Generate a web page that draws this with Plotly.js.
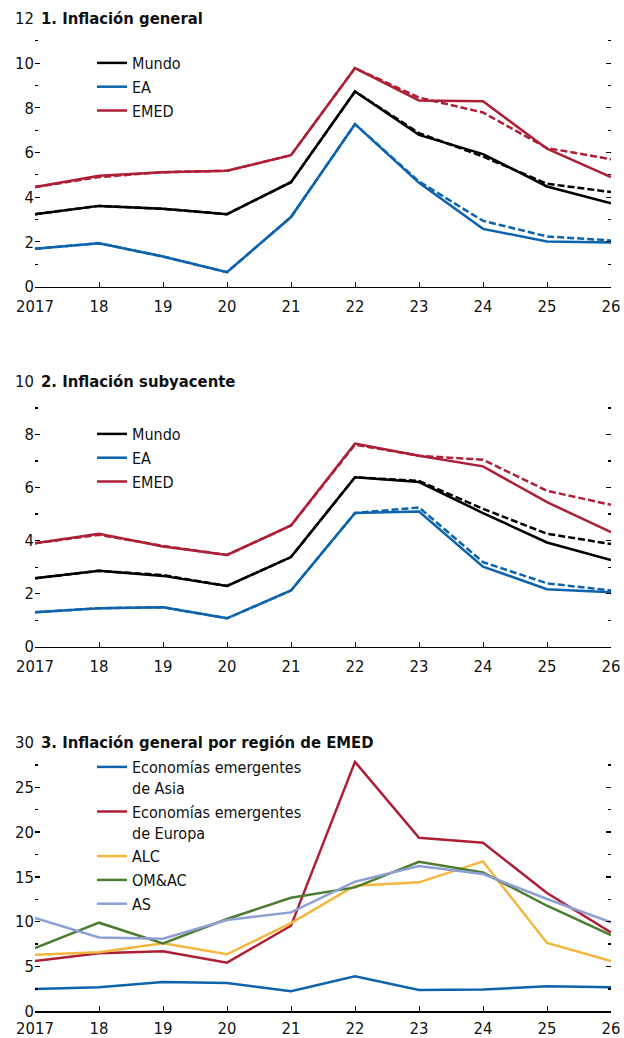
<!DOCTYPE html>
<html>
<head>
<meta charset="utf-8">
<script src="https://cdn.plot.ly/plotly-3.0.1.min.js"></script>
<style>html,body{margin:0;padding:0;background:#fff;}#chart{width:624px;height:1038px;}</style>
</head>
<body>
<div id="chart"></div>
<script>
// ---- Data ----
const years = [2017, 2018, 2019, 2020, 2021, 2022, 2023, 2024, 2025, 2026];
const yearLabels = ['2017', '18', '19', '20', '21', '22', '23', '24', '25', '26'];

// Panel 1: Inflación general (solid = current, dashed = previous)
const p1Mundo     = [3.24, 3.61, 3.48, 3.24, 4.67, 8.73, 6.79, 5.93, 4.48, 3.73];
const p1MundoPrev = [3.24, 3.61, 3.48, 3.24, 4.67, 8.73, 6.87, 5.82, 4.60, 4.23];
const p1EA        = [1.69, 1.94, 1.34, 0.64, 3.11, 7.27, 4.64, 2.58, 2.02, 1.97];
const p1EAPrev    = [1.69, 1.94, 1.34, 0.64, 3.11, 7.27, 4.70, 2.94, 2.24, 2.06];
const p1EMED      = [4.45, 4.96, 5.12, 5.18, 5.88, 9.78, 8.33, 8.29, 6.17, 4.90];
const p1EMEDPrev  = [4.45, 4.90, 5.12, 5.18, 5.88, 9.78, 8.46, 7.79, 6.20, 5.70];

// Panel 2: Inflación subyacente
const p2Mundo     = [2.58, 2.86, 2.67, 2.29, 3.38, 6.39, 6.21, 5.04, 3.93, 3.27];
const p2MundoPrev = [2.58, 2.86, 2.70, 2.29, 3.38, 6.39, 6.25, 5.20, 4.26, 3.87];
const p2EA        = [1.30, 1.45, 1.49, 1.07, 2.12, 5.04, 5.10, 3.02, 2.17, 2.05];
const p2EAPrev    = [1.30, 1.45, 1.49, 1.07, 2.12, 5.04, 5.25, 3.19, 2.39, 2.12];
const p2EMED      = [3.90, 4.26, 3.78, 3.46, 4.57, 7.66, 7.20, 6.80, 5.45, 4.32];
const p2EMEDPrev  = [3.90, 4.22, 3.80, 3.46, 4.57, 7.62, 7.20, 7.05, 5.88, 5.35];

// Panel 3: Inflación general por región de EMED
const p3Asia   = [2.49, 2.68, 3.27, 3.16, 2.23, 3.90, 2.38, 2.42, 2.79, 2.68];
const p3Europa = [5.61, 6.47, 6.69, 5.43, 9.55, 27.84, 19.37, 18.81, 13.20, 8.81];
const p3ALC    = [6.32, 6.58, 7.58, 6.36, 9.85, 14.01, 14.39, 16.73, 7.62, 5.61];
const p3OMAC   = [7.06, 9.89, 7.58, 10.30, 12.68, 13.83, 16.69, 15.50, 11.78, 8.51];
const p3AS     = [10.41, 8.25, 8.10, 10.19, 11.04, 14.46, 16.21, 15.32, 12.53, 9.93];

const seriesNames1 = ['Mundo', 'EA', 'EMED'];
const seriesNames3 = ['Economías emergentes<br>de Asia', 'Economías emergentes<br>de Europa', 'ALC', 'OM&AC', 'AS'];
const panelTitles = ['1. Inflación general', '2. Inflación subyacente', '3. Inflación general por región de EMED'];

// ---- Styling ----
const FONT = "'DejaVu Sans Condensed', 'Liberation Sans Narrow', 'Arial Narrow', sans-serif";
const C = {black: '#000000', blue: '#0d64ad', red: '#ad1f36', yellow: '#f4b73e', green: '#4b7c30', lav: '#8e9fd3'};
const LW = 2.5;
const DASH = '7px,3px';

function line(x, y, color, name, xa, ya, opts) {
  return Object.assign({
    type: 'scatter', mode: 'lines', x: x, y: y, name: name,
    xaxis: xa, yaxis: ya, line: {color: color, width: LW},
    hoverinfo: 'skip'
  }, opts || {});
}

const traces = [
  // panel 1
  line(years, p1Mundo, C.black, seriesNames1[0], 'x', 'y', {legend: 'legend'}),
  line(years, p1EA, C.blue, seriesNames1[1], 'x', 'y', {legend: 'legend'}),
  line(years, p1EMED, C.red, seriesNames1[2], 'x', 'y', {legend: 'legend'}),
  line(years, p1MundoPrev, C.black, seriesNames1[0], 'x', 'y', {showlegend: false, line: {color: C.black, width: LW, dash: DASH}}),
  line(years, p1EAPrev, C.blue, seriesNames1[1], 'x', 'y', {showlegend: false, line: {color: C.blue, width: LW, dash: DASH}}),
  line(years, p1EMEDPrev, C.red, seriesNames1[2], 'x', 'y', {showlegend: false, line: {color: C.red, width: LW, dash: DASH}}),
  // panel 2
  line(years, p2Mundo, C.black, seriesNames1[0], 'x2', 'y2', {legend: 'legend2'}),
  line(years, p2EA, C.blue, seriesNames1[1], 'x2', 'y2', {legend: 'legend2'}),
  line(years, p2EMED, C.red, seriesNames1[2], 'x2', 'y2', {legend: 'legend2'}),
  line(years, p2MundoPrev, C.black, seriesNames1[0], 'x2', 'y2', {showlegend: false, line: {color: C.black, width: LW, dash: DASH}}),
  line(years, p2EAPrev, C.blue, seriesNames1[1], 'x2', 'y2', {showlegend: false, line: {color: C.blue, width: LW, dash: DASH}}),
  line(years, p2EMEDPrev, C.red, seriesNames1[2], 'x2', 'y2', {showlegend: false, line: {color: C.red, width: LW, dash: DASH}}),
  // panel 3
  line(years, p3Asia, C.blue, seriesNames3[0], 'x3', 'y3', {legend: 'legend3'}),
  line(years, p3Europa, C.red, seriesNames3[1], 'x3', 'y3', {legend: 'legend3'}),
  line(years, p3ALC, C.yellow, seriesNames3[2], 'x3', 'y3', {legend: 'legend3'}),
  line(years, p3OMAC, C.green, seriesNames3[3], 'x3', 'y3', {legend: 'legend3'}),
  line(years, p3AS, C.lav, seriesNames3[4], 'x3', 'y3', {legend: 'legend3'})
];

const H = 1038, W = 624, ML = 35, MR = 13;
const PW = W - ML - MR;
function dom(topPx, botPx) { return [1 - botPx / H, 1 - topPx / H]; }

const TICKFONT = {family: FONT, size: 16.5, color: '#111'};

function xax(anchor, standoff) {
  return {
    anchor: anchor, domain: [0, 1], range: [2017, 2026], tickvals: years, ticktext: yearLabels,
    showline: true, linecolor: '#000', linewidth: 1.3, ticks: 'inside', ticklen: 5,
    tickwidth: 1, tickcolor: '#000', showgrid: false, zeroline: false, fixedrange: true,
    ticklabelstandoff: standoff,
    tickfont: TICKFONT, automargin: false
  };
}
function yax(anchor, domain, max, dtick, minor) {
  return {
    anchor: anchor, domain: domain, range: [0, max], dtick: dtick, tick0: 0,
    showline: false, ticks: 'inside', ticklen: 5, tickwidth: 1.2, tickcolor: '#000',
    mirror: 'ticks', showgrid: false, zeroline: false, fixedrange: true,
    minor: {dtick: minor, tick0: 0, ticks: 'inside', ticklen: 3, tickwidth: 1.2, tickcolor: '#000', showgrid: false},
    tickfont: TICKFONT, automargin: false
  };
}

const d1 = dom(18.5, 286.5), d2 = dom(381.5, 646.7), d3 = dom(742.5, 1011.3);

function legendAt(topPx) {
  return {
    x: (92 - ML) / PW, xanchor: 'left', y: 1 - topPx / H, yanchor: 'top', yref: 'paper',
    bgcolor: 'rgba(0,0,0,0)', borderwidth: 0, valign: 'top', tracegroupgap: 0,
    font: {family: FONT, size: 16, color: '#111'}, itemclick: false
  };
}

function titleAnn(text, dom) {
  return {
    text: '<b>' + text + '</b>', xref: 'paper', yref: 'paper', x: 4 / PW, y: dom[1],
    xanchor: 'left', yanchor: 'middle', showarrow: false,
    font: {family: FONT, size: 16.5, color: '#111'}
  };
}

const layout = {
  width: W, height: H, margin: {l: ML, r: MR, t: 0, b: 0},
  paper_bgcolor: '#fff', plot_bgcolor: '#fff', showlegend: true,
  font: {family: FONT, size: 16.5, color: '#111'},
  xaxis: xax('y', 4),
  xaxis2: xax('y2', 4),
  xaxis3: xax('y3', 2),
  yaxis: yax('x', d1, 12, 2, 1),
  yaxis2: yax('x2', d2, 10, 2, 1),
  yaxis3: yax('x3', d3, 30, 5, 2.5),
  legend: legendAt(46),
  legend2: legendAt(417),
  legend3: legendAt(750),
  annotations: [titleAnn(panelTitles[0], d1), titleAnn(panelTitles[1], d2), titleAnn(panelTitles[2], d3)]
};

Plotly.newPlot('chart', traces, layout, {displayModeBar: false, staticPlot: true});
</script>
</body>
</html>
